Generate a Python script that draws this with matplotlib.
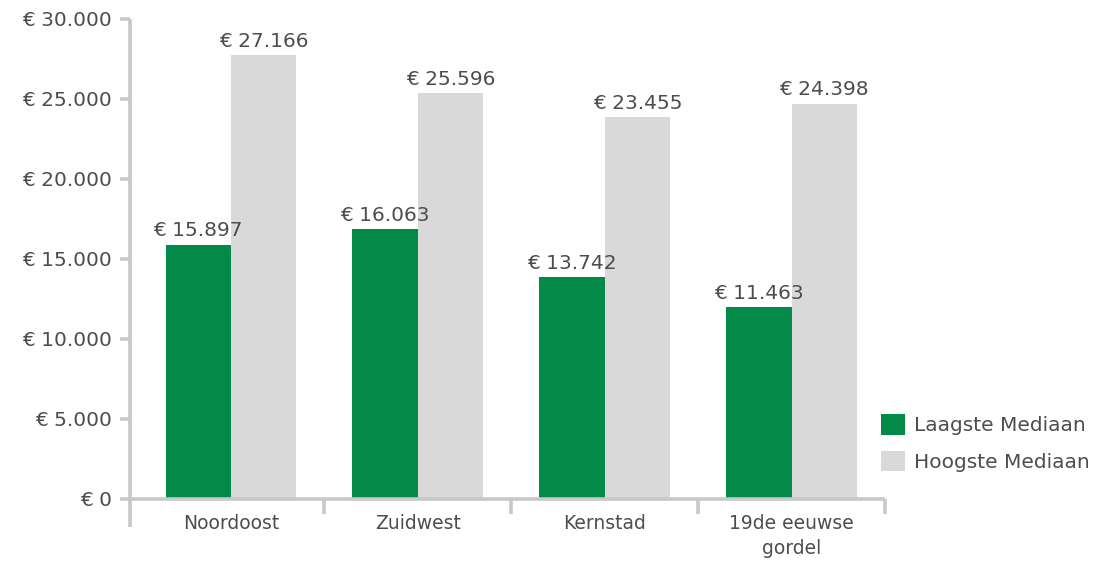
import matplotlib

matplotlib.use("Agg")
import matplotlib.pyplot as plt
from matplotlib.lines import Line2D
from matplotlib.patches import Patch
from matplotlib.ticker import FixedLocator, FuncFormatter

categories = ["Noordoost", "Zuidwest", "Kernstad", "19de eeuwse\ngordel"]
# bar heights as drawn in the reference (the printed labels differ slightly)
laagste = [15900, 16850, 13850, 12000]
hoogste = [27750, 25380, 23880, 24700]
laagste_labels = ["€ 15.897", "€ 16.063", "€ 13.742", "€ 11.463"]
hoogste_labels = ["€ 27.166", "€ 25.596", "€ 23.455", "€ 24.398"]
series_names = ["Laagste Mediaan", "Hoogste Mediaan"]
y_ticks = [0, 5000, 10000, 15000, 20000, 25000, 30000]

GREEN = "#038a48"
GREY = "#d9d9d9"
AXIS = "#c8c8c8"
TEXT = "#4d4d4d"

plt.rcParams.update({"font.family": ["DejaVu Sans"], "text.color": TEXT})

fig = plt.figure(figsize=(11.10, 5.64), dpi=100)
ax = fig.add_axes([130 / 1110, 1 - 499 / 564, 755 / 1110, 480 / 564])

x = list(range(len(categories)))
width = 0.35
ax.bar([i - width / 2 for i in x], laagste, width, color=GREEN, zorder=2)
ax.bar([i + width / 2 for i in x], hoogste, width, color=GREY, zorder=2)

for i in x:
    ax.annotate(laagste_labels[i], (i - width / 2, laagste[i]), xytext=(0, 6),
                textcoords="offset points", ha="center", va="baseline", fontsize=14.5, color=TEXT)
    ax.annotate(hoogste_labels[i], (i + width / 2, hoogste[i]), xytext=(0, 6),
                textcoords="offset points", ha="center", va="baseline", fontsize=14.5, color=TEXT)

ax.set_xlim(-0.54, 3.5)
ax.set_ylim(0, 30000)

for side in ("top", "right"):
    ax.spines[side].set_visible(False)
for side in ("left", "bottom"):
    ax.spines[side].set_color(AXIS)
    ax.spines[side].set_linewidth(2.6)
    ax.spines[side].set_capstyle("butt")

ax.yaxis.set_major_locator(FixedLocator(y_ticks))
ax.yaxis.set_major_formatter(
    FuncFormatter(lambda v, _: "€ " + f"{int(v):,}".replace(",", ".")))
ax.tick_params(axis="y", length=7, width=2.6, color=AXIS, labelsize=14.5,
               labelcolor=TEXT, pad=6)

ax.set_xticks(x)
ax.set_xticklabels(categories, fontsize=13.5, color=TEXT, linespacing=1.4)
ax.set_xticks([0.5, 1.5, 2.5, 3.5], minor=True)
ax.tick_params(axis="x", which="major", length=0, pad=11)
ax.tick_params(axis="x", which="minor", length=11, width=2.6, color=AXIS)

# left axis line runs on below the category axis
ax.add_line(Line2D([-0.54, -0.54], [0, -1750], color=AXIS, lw=2.6,
                   clip_on=False, solid_capstyle="butt"))

handles = [Patch(facecolor=GREEN), Patch(facecolor=GREY)]
fig.legend(handles, series_names, loc="center left", bbox_to_anchor=(867 / 1110, 1 - 443 / 564),
           frameon=False, fontsize=14.5, handlelength=1.2, handleheight=1.2,
           handletextpad=0.45, labelspacing=0.75, labelcolor=TEXT, borderpad=0.2)

fig.savefig("out.png", dpi=100)
